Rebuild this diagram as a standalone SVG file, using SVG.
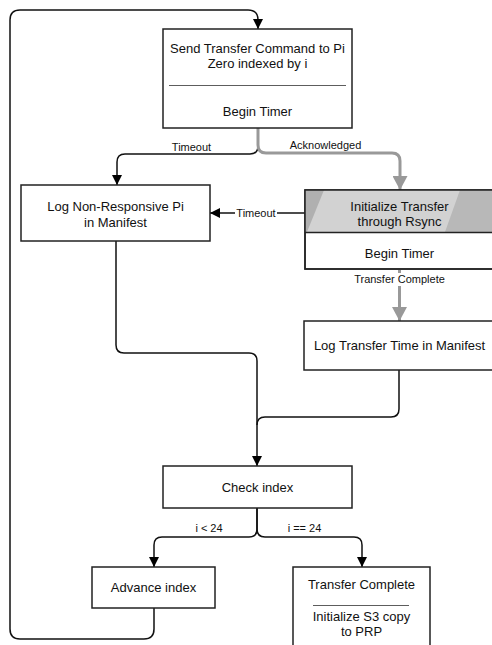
<svg xmlns="http://www.w3.org/2000/svg" width="492" height="645" viewBox="0 0 492 645">
<style>
.box{fill:#fff;stroke:#222;stroke-width:1.5}
.t{font-family:"Liberation Sans",Arial,sans-serif;font-size:13px;fill:#111;text-anchor:middle}
.l{font-family:"Liberation Sans",Arial,sans-serif;font-size:11px;fill:#111;text-anchor:middle}
.c{fill:none;stroke:#111;stroke-width:1.5}
.g{fill:none;stroke:#999;stroke-width:3}
.sep{stroke:#333;stroke-width:0.8}
</style>
<defs>
<marker id="ab" markerUnits="userSpaceOnUse" markerWidth="10" markerHeight="10" refX="10" refY="5" orient="auto">
<path d="M0,0 L10,5 L0,10 z" fill="#000"/>
</marker>
<marker id="ag" markerUnits="userSpaceOnUse" markerWidth="14" markerHeight="15" refX="14" refY="7.5" orient="auto">
<path d="M0,0 L14,7.5 L0,15 z" fill="#999"/>
</marker>
</defs>
<rect width="492" height="645" fill="#fff"/>
<g id="connectors">
<path class="c" d="M154,608 V629 Q154,639 144,639 H20 Q10,639 10,629 V20 Q10,10 20,10 H248 Q258,10 258,20 V29" marker-end="url(#ab)"/>
<path class="c" d="M258,128 V146 Q258,154 250,154 H125 Q117,154 117,162 V185" marker-end="url(#ab)"/>
<path class="g" d="M258,128 V145 Q258,153 266,153 H392 Q400,153 400,161 V190" marker-end="url(#ag)"/>
<path class="c" d="M305,213 H210" marker-end="url(#ab)"/>
<rect x="235" y="206" width="42" height="14" fill="#fff"/>
<text class="l" x="256" y="217">Timeout</text>
<path class="g" d="M399.5,270 V321" marker-end="url(#ag)"/>
<rect x="352" y="273" width="95" height="13" fill="#fff"/>
<text class="l" x="399.5" y="283">Transfer Complete</text>
<path class="c" d="M116,241 V345 Q116,353 124,353 H249 Q257,353 257,361 V466" marker-end="url(#ab)"/>
<path class="c" d="M399,370 V409 Q399,417 391,417 H265 Q257,417 257,425"/>
<path class="c" d="M257,508 V529 Q257,537 249,537 H162 Q154,537 154,545 V567" marker-end="url(#ab)"/>
<path class="c" d="M257,508 V529 Q257,537 265,537 H354 Q362,537 362,545 V567" marker-end="url(#ab)"/>
<text class="l" x="191.5" y="151">Timeout</text>
<text class="l" x="325.5" y="149">Acknowledged</text>
<text class="l" x="209" y="532">i &lt; 24</text>
<text class="l" x="304.5" y="532">i == 24</text>
</g>
<g id="send">
<rect class="box" x="163" y="29" width="189" height="99"/>
<text class="t" x="257.5" y="53">Send Transfer Command to Pi</text>
<text class="t" x="257.5" y="68">Zero indexed by i</text>
<line class="sep" x1="169" y1="85.5" x2="346" y2="85.5"/>
<text class="t" x="257.5" y="116">Begin Timer</text>
</g>
<g id="lognonresp">
<rect class="box" x="21" y="185" width="189" height="56"/>
<text class="t" x="115.5" y="211">Log Non-Responsive Pi</text>
<text class="t" x="115.5" y="227">in Manifest</text>
</g>
<g id="rsync">
<rect class="box" x="305" y="190" width="189" height="79"/>
<rect x="305" y="190" width="189" height="42" fill="#d2d2d2"/>
<polygon points="305,190 324,190 307,232 305,232" fill="#b0b0b0"/>
<polygon points="460,190 494,190 494,232 445,232" fill="#b8b8b8"/>
<rect x="305" y="190" width="189" height="79" style="fill:none;stroke:#222;stroke-width:1.5"/>
<line x1="305" y1="232.5" x2="494" y2="232.5" stroke="#222" stroke-width="1.5"/>
<text class="t" x="399.5" y="211">Initialize Transfer</text>
<text class="t" x="399.5" y="226">through Rsync</text>
<text class="t" x="399.5" y="258">Begin Timer</text>
</g>
<g id="logtransfer">
<rect class="box" x="304" y="321" width="190" height="49"/>
<text class="t" x="399.5" y="350">Log Transfer Time in Manifest</text>
</g>
<g id="check">
<rect class="box" x="163" y="466" width="189" height="42"/>
<text class="t" x="257.5" y="491.5">Check index</text>
</g>
<g id="advance">
<rect class="box" x="92" y="567" width="123" height="41"/>
<text class="t" x="153.5" y="592">Advance index</text>
</g>
<g id="complete">
<rect class="box" x="293" y="567" width="137" height="90"/>
<text class="t" x="361.5" y="589">Transfer Complete</text>
<line class="sep" x1="313" y1="605.5" x2="409" y2="605.5"/>
<text class="t" x="361.5" y="621">Initialize S3 copy</text>
<text class="t" x="361.5" y="636">to PRP</text>
</g>
</svg>
